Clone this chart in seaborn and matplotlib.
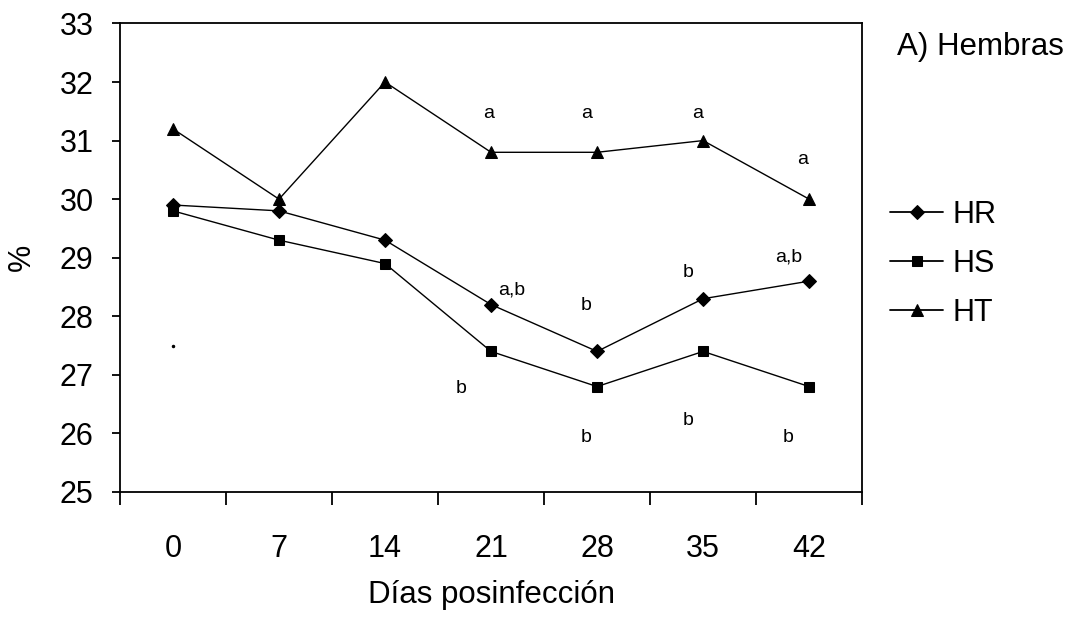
import matplotlib
matplotlib.use("Agg")
import matplotlib.pyplot as plt
import seaborn as sns
import pandas as pd
from matplotlib.ticker import FixedLocator

days = ["0", "7", "14", "21", "28", "35", "42"]
HR = [29.9, 29.8, 29.3, 28.2, 27.4, 28.3, 28.6]
HS = [29.8, 29.3, 28.9, 27.4, 26.8, 27.4, 26.8]
HT = [31.2, 30.0, 32.0, 30.8, 30.8, 31.0, 30.0]
series_names = ["HR", "HS", "HT"]

# significance letters: (text, x position in category units, y value)
ann_text = ["a", "a", "a", "a",
            "a,b", "b", "b", "a,b",
            "b", "b", "b", "b"]
ann_x = [2.98, 3.9, 4.95, 5.94,
         3.19, 3.9, 4.86, 5.81,
         2.72, 3.9, 4.86, 5.8]
ann_y = [31.47, 31.47, 31.47, 30.67,
         28.45, 28.19, 28.74, 29.01,
         26.77, 25.93, 26.22, 25.93]

df = pd.DataFrame({
    "dia": days * 3,
    "valor": HR + HS + HT,
    "serie": sum([[s] * len(days) for s in series_names], []),
})

sns.set_theme(style="white")
plt.rcParams["font.family"] = ["Liberation Sans", "DejaVu Sans"]
plt.rcParams["text.color"] = "black"
plt.rcParams["axes.labelcolor"] = "black"
plt.rcParams["xtick.color"] = "black"
plt.rcParams["ytick.color"] = "black"

fig = plt.figure(figsize=(10.71, 6.17), dpi=100)
ax = fig.add_axes([0.112, 0.2026, 0.693, 0.7594])

sns.lineplot(data=df, x="dia", y="valor", hue="serie", style="serie",
             palette={s: "black" for s in series_names},
             markers={"HR": "D", "HS": "s", "HT": "^"},
             dashes=False, linewidth=1.0, markersize=7,
             markeredgecolor="black", ax=ax, sort=False)

msize = {"D": 7, "s": 7.5, "^": 9}

def fix_marker(line):
    m = line.get_marker()
    if m in msize:
        line.set_markersize(msize[m])

for ln in ax.lines:
    fix_marker(ln)

# stray dot in original
ax.plot([0], [27.5], marker="o", markersize=1.5, color="black", linestyle="none")

for t, x, y in zip(ann_text, ann_x, ann_y):
    ax.text(x, y, t, ha="center", va="center", fontsize=14, color="black")

ax.set_xlim(-0.5, 6.5)
ax.set_ylim(25, 33)
ax.set_yticks(range(25, 34))
ax.set_xticks(range(len(days)))
ax.set_xticklabels(days)
ax.xaxis.set_minor_locator(FixedLocator([i - 0.5 for i in range(len(days) + 1)]))
ax.tick_params(axis="x", which="major", length=0, labelsize=22, pad=30)
ax.tick_params(axis="x", which="minor", length=9, width=1.3, color="black", direction="out", bottom=True)
ax.tick_params(axis="y", which="major", length=6, width=1.3, color="black", direction="out", left=True,
               labelsize=22, pad=13)

for sp in ax.spines.values():
    sp.set_color("black")
    sp.set_linewidth(1.3)
    sp.set_visible(True)

ax.set_xlabel("Días posinfección", fontsize=22.5, labelpad=12)
ax.set_ylabel("%", fontsize=22, labelpad=16)

handles, labels = ax.get_legend_handles_labels()
for h in handles:
    h.set_linewidth(1.3)
    fix_marker(h)
ax.legend(handles, labels, loc="center left", bbox_to_anchor=(0.831, 0.572),
          bbox_transform=fig.transFigure, frameon=False, fontsize=22,
          handlelength=1.75, handletextpad=0.3, labelspacing=0.62, borderaxespad=0,
          borderpad=0)

fig.text(0.838, 0.924, "A) Hembras", fontsize=22.5, ha="left", va="center")

fig.savefig("out.png", dpi=100)
